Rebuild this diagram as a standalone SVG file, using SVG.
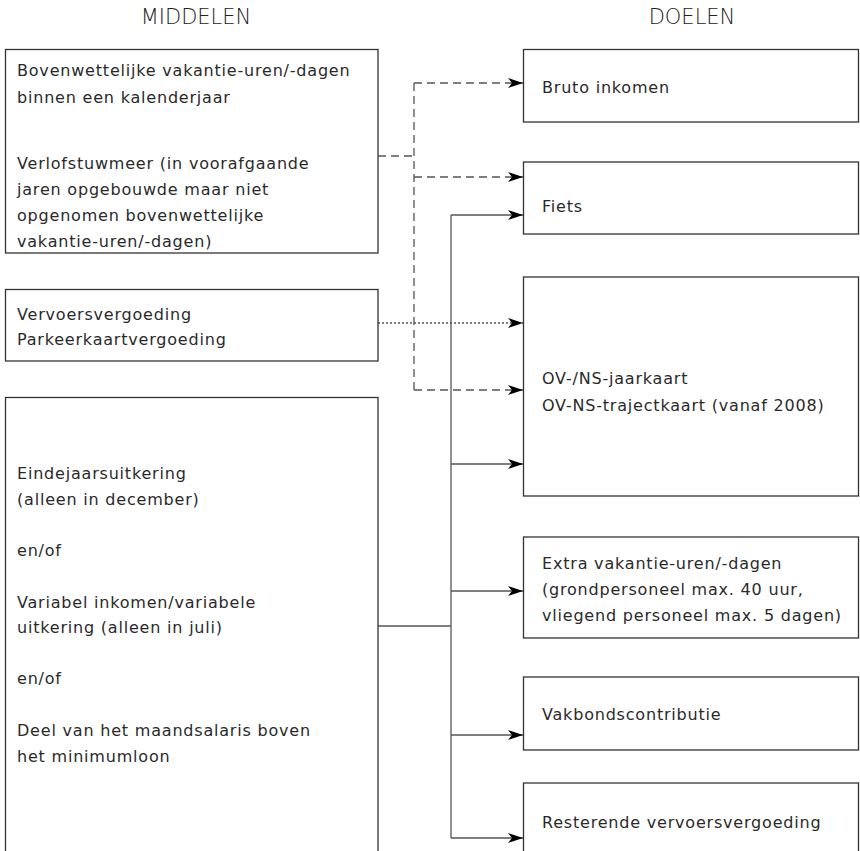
<svg xmlns="http://www.w3.org/2000/svg" width="860" height="851" viewBox="0 0 860 851">
<style>
.box{fill:#fff;stroke:#333;stroke-width:1.3}
.t{font-family:"DejaVu Sans","Liberation Sans",sans-serif;font-size:16px;letter-spacing:0.8px;fill:#2a2a2a}
.h{font-family:"DejaVu Sans","Liberation Sans",sans-serif;font-size:21px;fill:#222;font-weight:300;text-anchor:middle}
.c{fill:none;stroke:#555;stroke-width:1.3}
.dash{stroke-dasharray:8,5}
.dot{stroke-dasharray:2,2}
</style>
<defs>
<marker id="ah" markerUnits="userSpaceOnUse" markerWidth="16" markerHeight="12" refX="15" refY="5" orient="auto">
<path d="M0,0 L15,5 L0,10 L4,5 Z" fill="#000"/>
</marker>
</defs>
<rect width="860" height="851" fill="#fff"/>
<g id="headers">
<text class="h" x="196" y="24">MIDDELEN</text>
<text class="h" x="692" y="24">DOELEN</text>
</g>
<g id="connectors">
<path class="c dash" d="M378,156 H414"/>
<path class="c dash" d="M414,83 V390"/>
<path class="c dash" d="M414,83 H523" marker-end="url(#ah)"/>
<path class="c dash" d="M414,177 H523" marker-end="url(#ah)"/>
<path class="c dash" d="M414,390 H523" marker-end="url(#ah)"/>
<path class="c dot" d="M378,323 H523" marker-end="url(#ah)"/>
<path class="c" d="M378,626 H451"/>
<path class="c" d="M451,215 V838"/>
<path class="c" d="M451,215 H523" marker-end="url(#ah)"/>
<path class="c" d="M451,464 H523" marker-end="url(#ah)"/>
<path class="c" d="M451,591 H523" marker-end="url(#ah)"/>
<path class="c" d="M451,735 H523" marker-end="url(#ah)"/>
<path class="c" d="M451,838 H523" marker-end="url(#ah)"/>
</g>
<g id="m1">
<rect class="box" x="5.5" y="49.5" width="372.5" height="203.5"/>
<text class="t" x="17" y="76">Bovenwettelijke vakantie-uren/-dagen</text>
<text class="t" x="17" y="103">binnen een kalenderjaar</text>
<text class="t" x="17" y="169">Verlofstuwmeer (in voorafgaande</text>
<text class="t" x="17" y="195">jaren opgebouwde maar niet</text>
<text class="t" x="17" y="221">opgenomen bovenwettelijke</text>
<text class="t" x="17" y="247">vakantie-uren/-dagen)</text>
</g>
<g id="m2">
<rect class="box" x="5.5" y="289.5" width="372.5" height="71.5"/>
<text class="t" x="17" y="320">Vervoersvergoeding</text>
<text class="t" x="17" y="345">Parkeerkaartvergoeding</text>
</g>
<g id="m3">
<rect class="box" x="5.5" y="397.5" width="372.5" height="470"/>
<text class="t" x="17" y="479">Eindejaarsuitkering</text>
<text class="t" x="17" y="505">(alleen in december)</text>
<text class="t" x="17" y="556">en/of</text>
<text class="t" x="17" y="608">Variabel inkomen/variabele</text>
<text class="t" x="17" y="633">uitkering (alleen in juli)</text>
<text class="t" x="17" y="684">en/of</text>
<text class="t" x="17" y="736">Deel van het maandsalaris boven</text>
<text class="t" x="17" y="762">het minimumloon</text>
</g>
<g id="d1">
<rect class="box" x="523.5" y="49.5" width="335" height="72.5"/>
<text class="t" x="542" y="93">Bruto inkomen</text>
</g>
<g id="d2">
<rect class="box" x="523.5" y="162" width="335" height="72"/>
<text class="t" x="542" y="212">Fiets</text>
</g>
<g id="d3">
<rect class="box" x="523.5" y="277" width="335" height="219"/>
<text class="t" x="542" y="384">OV-/NS-jaarkaart</text>
<text class="t" x="542" y="411">OV-NS-trajectkaart (vanaf 2008)</text>
</g>
<g id="d4">
<rect class="box" x="523.5" y="537" width="335" height="101"/>
<text class="t" x="542" y="569">Extra vakantie-uren/-dagen</text>
<text class="t" x="542" y="595">(grondpersoneel max. 40 uur,</text>
<text class="t" x="542" y="621">vliegend personeel max. 5 dagen)</text>
</g>
<g id="d5">
<rect class="box" x="523.5" y="677" width="335" height="73"/>
<text class="t" x="542" y="720">Vakbondscontributie</text>
</g>
<g id="d6">
<rect class="box" x="523.5" y="783" width="335" height="90"/>
<text class="t" x="542" y="828">Resterende vervoersvergoeding</text>
</g>
</svg>
